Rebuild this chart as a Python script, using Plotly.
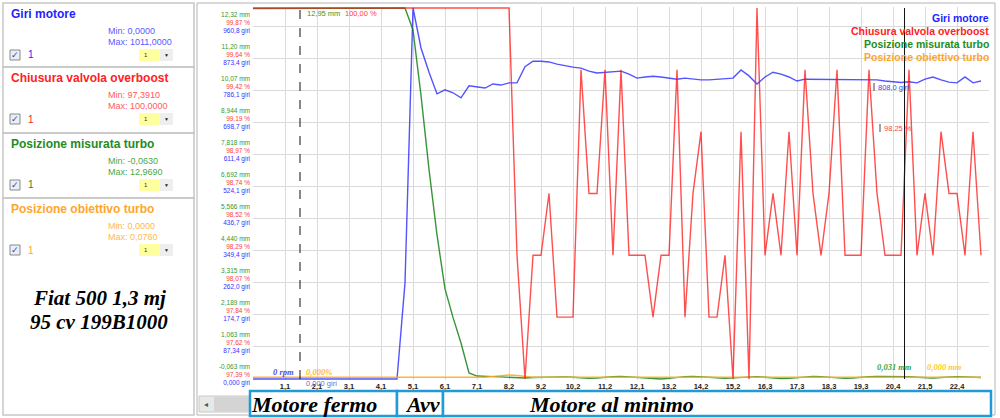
import plotly.graph_objects as go

W, H = 1000, 418
SANS = "Liberation Sans, Arial, sans-serif"
SERIF = "Liberation Serif, Times New Roman, serif"

# ---------------- data ----------------
x_tick_labels = ["1,1", "2,1", "3,1", "4,1", "5,1", "6,1", "7,1", "8,2", "9,2", "10,2", "11,2",
                 "12,1", "13,2", "14,2", "15,2", "16,3", "17,3", "18,3", "19,3", "20,4", "21,5", "22,4"]
x_tick_index = [4, 8, 12, 16, 20, 24, 28, 32, 36, 40, 44, 48, 52, 56, 60, 64, 68, 72, 76, 80, 84, 88]

giri_motore = [0, 0, 0, 0, 0, 0, 0, 0, 0, 0, 0, 0, 0, 0, 0, 0, 0, 0, 0,
               262, 1011, 902, 836, 777, 788, 780, 766, 799, 796, 793, 804, 801, 807, 807,
               851, 866, 866, 864, 858, 853, 850, 847, 839, 834, 836, 836, 839, 831, 820,
               823, 825, 823, 820, 817, 820, 817, 815, 815, 817, 817, 820, 842, 826, 804,
               823, 836, 831, 823, 812, 817, 817, 817, 817, 815, 815, 817, 817, 817, 815,
               812, 810, 808, 810, 807, 817, 823, 815, 809, 807, 823, 807, 812]

chiusura_valvola = [100.0, 100.0, 100.0, 100.0, 100.0, 100.0, 100.0, 100.0, 100.0, 100.0, 100.0,
                    100.0, 100.0, 100.0, 100.0, 100.0, 100.0, 100.0, 100.0, 100.0, 100.0, 100.0,
                    100.0, 100.0, 100.0, 100.0, 100.0, 100.0, 100.0, 100.0, 100.0, 100.0, 100.0,
                    98.261, 97.391, 98.261, 98.261, 98.696, 97.826, 97.826, 97.826, 99.565, 98.696,
                    98.696, 99.565, 98.261, 99.565, 98.261, 98.261, 98.261, 97.826, 98.261, 98.261,
                    99.565, 97.826, 98.696, 99.13, 97.826, 97.826, 98.261, 97.391, 99.13, 97.391,
                    100.0, 98.261, 98.696, 98.261, 99.13, 98.261, 99.565, 98.696, 98.261, 98.696,
                    99.565, 98.261, 98.261, 98.261, 99.565, 98.696, 98.261, 98.261, 98.261, 99.565,
                    98.261, 98.696, 98.261, 99.13, 98.696, 98.696, 98.261, 99.13, 98.261]

pos_misurata = [12.95, 12.95, 12.95, 12.95, 12.95, 12.95, 12.95, 12.95, 12.95, 12.95, 12.95,
                12.95, 12.95, 12.95, 12.95, 12.95, 12.95, 12.95, 12.95, 12.969,
                12.2, 9.9, 7.3, 5.0, 3.1, 2.1, 1.2, 0.15, 0.04, 0.02,
                0.02, 0.01, 0.0, -0.02, -0.03, -0.01, 0.0, 0.01, 0.02, 0.01, 0.0, -0.02,
                -0.04, -0.03, 0.0, 0.02, 0.03, 0.01, 0.0, -0.03, -0.05, -0.063, -0.04, 0.0,
                0.02, 0.03, 0.02, 0.0, -0.02, -0.04, -0.03, 0.0, 0.01, 0.02, 0.0, -0.03,
                -0.05, -0.04, -0.01, 0.01, 0.03, 0.02, 0.0, -0.02, -0.04, -0.03, 0.0, 0.02,
                0.03, 0.03, 0.031, 0.031, 0.02, 0.0, -0.02, -0.03, -0.01, 0.01, 0.02, 0.01,
                0.0, -0.01]

pos_obiettivo = [0.0, 0.0, 0.0, 0.0, 0.0, 0.0, 0.0, 0.0, 0.0, 0.0, 0.0, 0.0, 0.0, 0.0, 0.0,
                 0.0, 0.0, 0.0, 0.0, 0.0, 0.0, 0.0, 0.0, 0.0, 0.0, 0.0, 0.0, 0.0, 0.0, 0.0,
                 0.03, 0.065, 0.076, 0.06, 0.02, 0.0, 0.0, 0.0, 0.0, 0.0, 0.0, 0.0, 0.0, 0.0,
                 0.0, 0.0, 0.0, 0.0, 0.0, 0.01, 0.02, 0.01, 0.0, 0.0, 0.0, 0.0, 0.0, 0.0,
                 0.0, 0.0, 0.0, 0.0, 0.0, 0.0, 0.0, 0.0, 0.01, 0.02, 0.01, 0.0, 0.0, 0.0,
                 0.0, 0.0, 0.0, 0.0, 0.0, 0.0, 0.0, 0.0, 0.0, 0.0, 0.0, 0.0, 0.0, 0.0, 0.0,
                 0.0, 0.0, 0.0, 0.0, 0.0]

sample_index = list(range(len(giri_motore)))

giri_tick_labels = ["0,000 giri", "87,34 giri", "174,7 giri", "262,0 giri", "349,4 giri", "436,7 giri",
                    "524,1 giri", "611,4 giri", "698,7 giri", "786,1 giri", "873,4 giri", "960,8 giri"]
pct_tick_labels = ["97,39 %", "97,62 %", "97,84 %", "98,07 %", "98,29 %", "98,52 %",
                   "98,74 %", "98,97 %", "99,19 %", "99,42 %", "99,64 %", "99,87 %"]
mm_tick_labels = ["-0,063 mm", "1,063 mm", "2,189 mm", "3,315 mm", "4,440 mm", "5,566 mm",
                  "6,692 mm", "7,818 mm", "8,944 mm", "10,07 mm", "11,20 mm", "12,32 mm"]

series_names = ["Giri motore", "Chiusura valvola overboost", "Posizione misurata turbo", "Posizione obiettivo turbo"]
series_min = ["Min: 0,0000", "Min: 97,3910", "Min: -0,0630", "Min: 0,0000"]
series_max = ["Max: 1011,0000", "Max: 100,0000", "Max: 12,9690", "Max: 0,0760"]
giri_range = [0.0, 1011.0]
pct_range = [97.391, 100.0]
mm_range = [-0.063, 12.969]

cursor_a = 5.875
cursor_b = 81.44

# ---------------- styling ----------------
title_colors = ["#1f1fff", "#ff2222", "#1e8c1e", "#ffa52b"]
sub_colors = ["#5a5aff", "#ff5a5a", "#4aa84a", "#ffb84d"]
line_colors = ["rgba(40,40,255,0.80)", "rgba(255,20,20,0.75)", "rgba(20,130,20,0.85)", "rgba(255,170,30,0.9)"]


def vals(labels):
    return [float(s.split()[0].replace(",", ".")) for s in labels]


def padded(r):
    pad = (r[1] - r[0]) / 371.0
    return [r[0] - pad, r[1] + pad]


fig = go.Figure()
fig.add_trace(go.Scatter(x=sample_index, y=giri_motore, mode="lines", yaxis="y",
                         line=dict(color=line_colors[0], width=1.4), name=series_names[0]))
fig.add_trace(go.Scatter(x=sample_index, y=pos_misurata, mode="lines", yaxis="y2",
                         line=dict(color=line_colors[2], width=1.4), name=series_names[2]))
fig.add_trace(go.Scatter(x=sample_index, y=pos_obiettivo, mode="lines", yaxis="y2",
                         line=dict(color=line_colors[3], width=1.4), name=series_names[3]))
fig.add_trace(go.Scatter(x=sample_index, y=chiusura_valvola, mode="lines", yaxis="y3",
                         line=dict(color=line_colors[1], width=1.4), name=series_names[1]))

ydom = [1 - 380 / H, 1 - 7 / H]

shapes = []
ann = []


def txt(s, x, y, size, color, anchor="left", family=SANS):
    ann.append(dict(text=s, x=x / W, y=1 - y / H, xref="paper", yref="paper", xanchor=anchor,
                    yanchor="middle", showarrow=False, font=dict(size=size, color=color, family=family)))


def rect(x0, y0, x1, y1, line=None, lw=1.0, fill=None, layer="above"):
    shapes.append(dict(type="rect", xref="paper", yref="paper", x0=x0 / W, x1=x1 / W,
                       y0=1 - y1 / H, y1=1 - y0 / H, layer=layer,
                       line=dict(color=line if line else "rgba(0,0,0,0)", width=lw if line else 0),
                       fillcolor=fill if fill else "rgba(0,0,0,0)"))


def pline(x0, y0, x1, y1, color, width=1.0, dash="solid"):
    shapes.append(dict(type="line", xref="paper", yref="paper", x0=x0 / W, x1=x1 / W,
                       y0=1 - y0 / H, y1=1 - y1 / H, line=dict(color=color, width=width, dash=dash)))


# chart frame
rect(197, 3, 995, 415, line="#b4b4b4", lw=1, layer="below")

# left panel boxes
box_tops = [3, 67, 133, 198]
box_bots = [67, 133, 198, 415]
for k in range(4):
    b = box_tops[k]
    rect(3, b, 194, box_bots[k], line="#c6c6c6", lw=1.5, layer="below")
    txt("<b>" + series_names[k] + "</b>", 9, b + 11, 12, title_colors[k])
    txt(series_min[k], 106, b + 28, 9, sub_colors[k])
    txt(series_max[k], 106, b + 39, 9, sub_colors[k])
    c = b + 52
    rect(10, c - 5, 20, c + 5, line="#8a8a8a", lw=1, fill="#e9eef7")
    txt("✓", 15, c, 9, "#2b4aa8", anchor="center")
    txt("1", 26, c, 10, title_colors[k])
    rect(139, c - 6, 160, c + 6, fill="#ffff9e")
    txt("1", 142, c, 6, "#333333")
    rect(160, c - 6, 173, c + 6, fill="#eeeeee")
    txt("▼", 166.5, c, 5, "#222222", anchor="center")

txt("<b><i>Fiat 500 1,3 mj</i></b>", 99, 298, 21, "#000000", anchor="center", family=SERIF)
txt("<b><i>95 cv 199B1000</i></b>", 99, 322, 21, "#000000", anchor="center", family=SERIF)

# legend (top-right)
for k, yy in enumerate([18, 31, 44, 57]):
    txt("<b>" + series_names[k] + "</b>", 991, yy, 10.5, title_colors[k], anchor="right")

# cursors
for cx, dash in [(cursor_a, "dash"), (cursor_b, "solid")]:
    shapes.append(dict(type="line", xref="x", yref="paper", x0=cx, x1=cx,
                       y0=1 - 379 / H, y1=1 - 8 / H, line=dict(color="#111111", width=1, dash=dash)))

txt("12,95 mm", 305, 14, 7.5, "#2e9a2e")
txt("100,00 %", 343, 14, 7.5, "#ff4040")
txt("<i><b>0 rpm</b></i>", 296, 372, 8.5, "#5050e0", anchor="right", family=SERIF)
txt("<i><b>0,000%</b></i>", 304, 372, 8.5, "#ffbb33", family=SERIF)
txt("0,000 giri", 304, 383, 7.5, "#7070c8")
pline(874, 83, 874, 91, "#444444", 1)
txt("808,0 giri", 876, 87, 7.5, "#4040ff")
pline(880, 124, 880, 132, "#444444", 1)
txt("98,25 %", 882, 128, 7.5, "#ff4040")
txt("<i><b>0,031 mm</b></i>", 875, 367, 8.5, "#3aa83a", family=SERIF)
txt("<i><b>0,000 mm</b></i>", 925, 367, 8.5, "#ffcc22", family=SERIF)

# scrollbar
rect(199, 396, 250, 412, line="#c8c8c8", lw=1, fill="#e8e8e8")
rect(214, 397, 250, 411, fill="#d4d4d4")
txt("◂", 206, 404, 8, "#555555", anchor="center")

# bottom phase boxes
phase_names = ["Motore fermo", "Avv", "Motore al minimo"]
phase_edges = [250, 397, 443, 991]
phase_text_x = [314, 422, 611]
for k in range(3):
    rect(phase_edges[k], 391, phase_edges[k + 1], 416, line="#1e9bd8", lw=2.5, fill="#ffffff")
for k in range(3):
    txt("<b><i>" + phase_names[k] + "</i></b>", phase_text_x[k], 404, 22, "#000000",
        anchor="center", family=SERIF)

common_y = dict(domain=ydom, zeroline=False, showline=False, ticks="", automargin=False,
                tickmode="array", fixedrange=True)

fig.update_layout(
    width=W, height=H, margin=dict(l=0, r=0, t=0, b=0),
    paper_bgcolor="white", plot_bgcolor="white", showlegend=False,
    font=dict(family=SANS),
    xaxis=dict(domain=[253 / W, 989 / W], range=[0, 92], tickmode="array",
               tickvals=x_tick_index, ticktext=x_tick_labels,
               tickfont=dict(size=7.5, color="#222222", family=SANS, weight="bold"),
               showgrid=True, gridcolor="#dadada", gridwidth=1, zeroline=False,
               showline=False, ticks="", automargin=False, fixedrange=True),
    yaxis=dict(range=padded(giri_range), tickvals=vals(giri_tick_labels), ticktext=giri_tick_labels,
               tickfont=dict(size=6.5, color="#3333ff", family=SANS), showgrid=True,
               gridcolor="#dadada", gridwidth=1, ticklabelshift=4, ticklabelstandoff=2, **common_y),
    yaxis2=dict(range=padded(mm_range), tickvals=vals(mm_tick_labels), ticktext=mm_tick_labels,
                tickfont=dict(size=6.5, color="#2e9a2e", family=SANS), showgrid=False,
                overlaying="y", side="left", anchor="x", ticklabelshift=-12, ticklabelstandoff=2, **common_y),
    yaxis3=dict(range=padded(pct_range), tickvals=vals(pct_tick_labels), ticktext=pct_tick_labels,
                tickfont=dict(size=6.5, color="#ff3b3b", family=SANS), showgrid=False,
                overlaying="y", side="left", anchor="x", ticklabelshift=-4, ticklabelstandoff=2, **common_y),
    shapes=shapes,
    annotations=ann,
)

fig.write_html("out.html", config={"displayModeBar": False},
               post_script="document.body.style.margin='0px';document.body.style.overflow='hidden';")
